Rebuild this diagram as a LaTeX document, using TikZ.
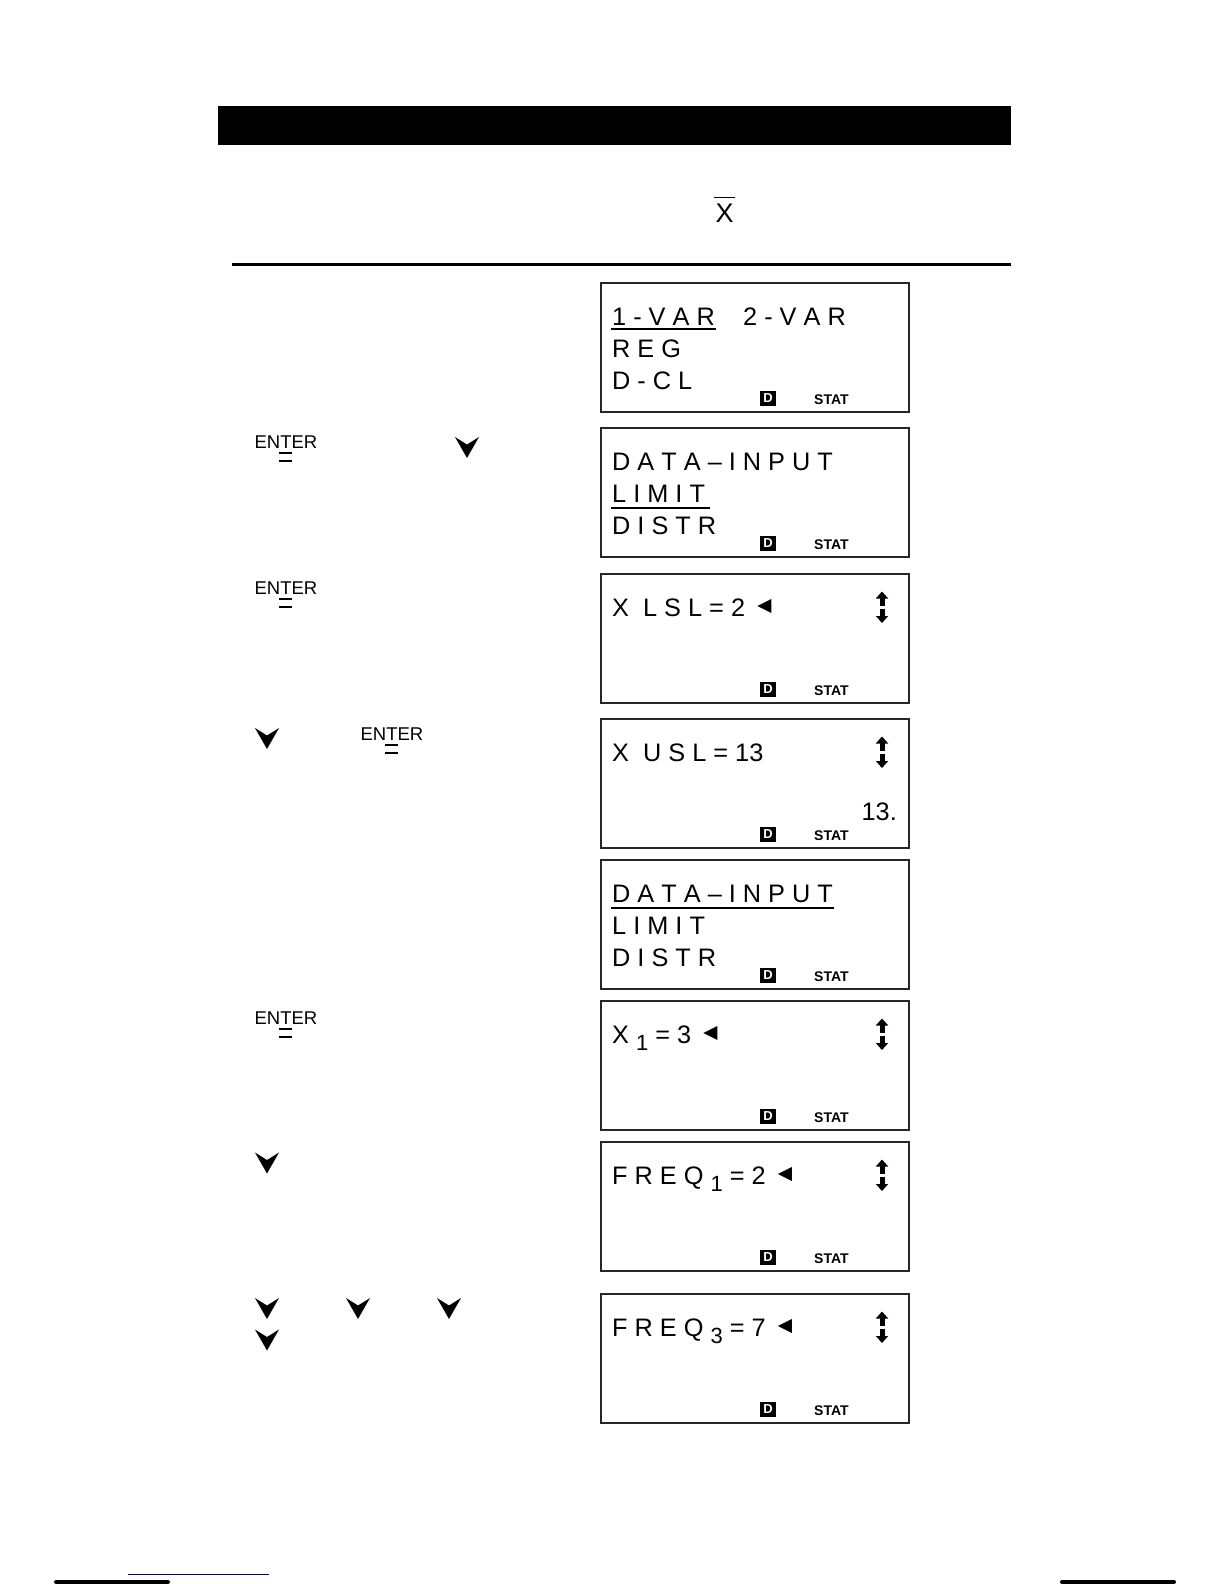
\documentclass[tikz,border=0pt]{standalone}
\usepackage{fontspec}
\setmainfont{Liberation Sans}
\usetikzlibrary{arrows.meta,positioning,calc}
\newcommand{\lcdsub}[1]{\raisebox{-7pt}{\fontsize{22}{22}\selectfont #1}}
\tikzset{
  downkey/.pic={\fill (-12,-10.5) -- (0,-3) -- (12,-10.5) -- (0,10.5) -- cycle;}
}
\begin{document}
\begin{tikzpicture}[x=1pt,y=-1pt,
  every node/.style={inner sep=0pt},
  screen/.style={draw=black!85,line width=1.8pt,minimum width=308,minimum height=129},
  lcd/.style={anchor=base west,font=\fontsize{25.3}{30}\selectfont},
  ind/.style={fill=black,text=white,font=\bfseries\fontsize{13}{13}\selectfont,minimum width=16,minimum height=15},
  stat/.style={anchor=base west,font=\bfseries\fontsize{14}{14}\selectfont},
  enterkey/.style={anchor=base,font=\fontsize{18.5}{18.5}\selectfont},
  eqbar/.style={line width=2.2pt},
  uline/.style={line width=2pt},
  scroll/.style={-{Triangle[width=12pt,length=7pt]},line width=5pt}
]
\useasboundingbox (0,0) rectangle (1224,1584);

% header
\node[fill=black,minimum width=793,minimum height=39] (title) at (614.5,125.5) {};
\node[anchor=base,font=\fontsize{27}{27}\selectfont] (xbar) at (724.5,222) {X};
\draw[line width=1.2pt] ($(xbar.north west)+(-1,-6)$) -- ($(xbar.north east)+(1,-6)$);
\draw[line width=2.2pt] (232,264.5) -- (1011,264.5);

% screens
\node[screen] (scr1) at (755,347.5) {};
\node[screen] (scr2) at (755,492.5) {};
\node[screen] (scr3) at (755,638.5) {};
\node[screen] (scr4) at (755,783.5) {};
\node[screen] (scr5) at (755,924.5) {};
\node[screen] (scr6) at (755,1065.5) {};
\node[screen] (scr7) at (755,1206.5) {};
\node[screen] (scr8) at (755,1358.5) {};

\node[ind] (d1) at (768,398) {D};   \node[stat] (st1) at (814,404) {STAT};
\node[ind] (d2) at (768,543) {D};   \node[stat] (st2) at (814,549) {STAT};
\node[ind] (d3) at (768,689) {D};   \node[stat] (st3) at (814,695) {STAT};
\node[ind] (d4) at (768,834) {D};   \node[stat] (st4) at (814,840) {STAT};
\node[ind] (d5) at (768,975) {D};   \node[stat] (st5) at (814,981) {STAT};
\node[ind] (d6) at (768,1116) {D};  \node[stat] (st6) at (814,1122) {STAT};
\node[ind] (d7) at (768,1257) {D};  \node[stat] (st7) at (814,1263) {STAT};
\node[ind] (d8) at (768,1409) {D};  \node[stat] (st8) at (814,1415) {STAT};

% screen texts
\node[lcd] (r1a) at (612,325) {1 - V A R};
\node[lcd] (r1b) at (743,325) {2 - V A R};
\node[lcd] (r1c) at (612,357) {R E G};
\node[lcd] (r1d) at (612,389) {D - C L};
\draw[uline] ($(r1a.base west)+(-1,4)$) -- ($(r1a.base east)+(1,4)$);

\node[lcd] (r2a) at (612,470) {D A T A – I N P U T};
\node[lcd] (r2b) at (612,502) {L I M I T};
\node[lcd] (r2c) at (612,534) {D I S T R};
\draw[uline] ($(r2b.base west)+(-1,6)$) -- ($(r2b.base east)+(5,6)$);

\node[lcd] (r3a) at (612,616) {X\ \ L S L = 2};
\fill ($(r3a.base east)+(12,-10)$) -- ++(14,-7) -- ++(0,14) -- cycle;
\draw[scroll] (882,605.5) -- (882,591.5);
\draw[scroll] (882,608.5) -- (882,623);

\node[lcd] (r4a) at (612,761) {X\ \ U S L = 13};
\node[lcd,anchor=base east] (r4b) at (897,820) {13.};
\draw[scroll] (882,750.5) -- (882,736.5);
\draw[scroll] (882,753.5) -- (882,768);

\node[lcd] (r5a) at (612,902) {D A T A – I N P U T};
\node[lcd] (r5b) at (612,934) {L I M I T};
\node[lcd] (r5c) at (612,966) {D I S T R};
\draw[uline] ($(r5a.base west)+(-1,6)$) -- ($(r5a.base east)+(1,6)$);

\node[lcd] (r6a) at (612,1043) {X \lcdsub{1} = 3};
\fill ($(r6a.base east)+(12,-10)$) -- ++(14,-7) -- ++(0,14) -- cycle;
\draw[scroll] (882,1032.5) -- (882,1018.5);
\draw[scroll] (882,1035.5) -- (882,1050);

\node[lcd] (r7a) at (612,1184) {F R E Q \lcdsub{1} = 2};
\fill ($(r7a.base east)+(12,-10)$) -- ++(14,-7) -- ++(0,14) -- cycle;
\draw[scroll] (882,1173.5) -- (882,1159.5);
\draw[scroll] (882,1176.5) -- (882,1191);

\node[lcd] (r8a) at (612,1336) {F R E Q \lcdsub{3} = 7};
\fill ($(r8a.base east)+(12,-10)$) -- ++(14,-7) -- ++(0,14) -- cycle;
\draw[scroll] (882,1325.5) -- (882,1311.5);
\draw[scroll] (882,1328.5) -- (882,1343);

% keys
\node[enterkey] (ent1) at (286,448) {ENTER};
\draw[eqbar] ($(ent1.base)+(-7,5)$) -- ++(13,0);
\draw[eqbar] ($(ent1.base)+(-7,13)$) -- ++(13,0);
\node[enterkey] (ent2) at (286,594) {ENTER};
\draw[eqbar] ($(ent2.base)+(-7,5)$) -- ++(13,0);
\draw[eqbar] ($(ent2.base)+(-7,13)$) -- ++(13,0);
\node[enterkey] (ent3) at (392,740) {ENTER};
\draw[eqbar] ($(ent3.base)+(-7,5)$) -- ++(13,0);
\draw[eqbar] ($(ent3.base)+(-7,13)$) -- ++(13,0);
\node[enterkey] (ent4) at (286,1024) {ENTER};
\draw[eqbar] ($(ent4.base)+(-7,5)$) -- ++(13,0);
\draw[eqbar] ($(ent4.base)+(-7,13)$) -- ++(13,0);

\pic (dn1) at (467,447.5) {downkey};
\pic (dn2) at (267,738.5) {downkey};
\pic (dn3) at (267,1163) {downkey};
\pic (dn4) at (267,1308.5) {downkey};
\pic (dn5) at (358,1308.5) {downkey};
\pic (dn6) at (449,1308.5) {downkey};
\pic (dn7) at (267,1340) {downkey};

% footer
\draw[line width=1.2pt,color=blue!55!black] (128,1574.5) -- (269,1574.5);
\draw[line width=4pt,line cap=round] (56,1582) -- (168,1582);
\draw[line width=4pt,line cap=round] (1062,1582) -- (1174,1582);
\end{tikzpicture}
\end{document}
